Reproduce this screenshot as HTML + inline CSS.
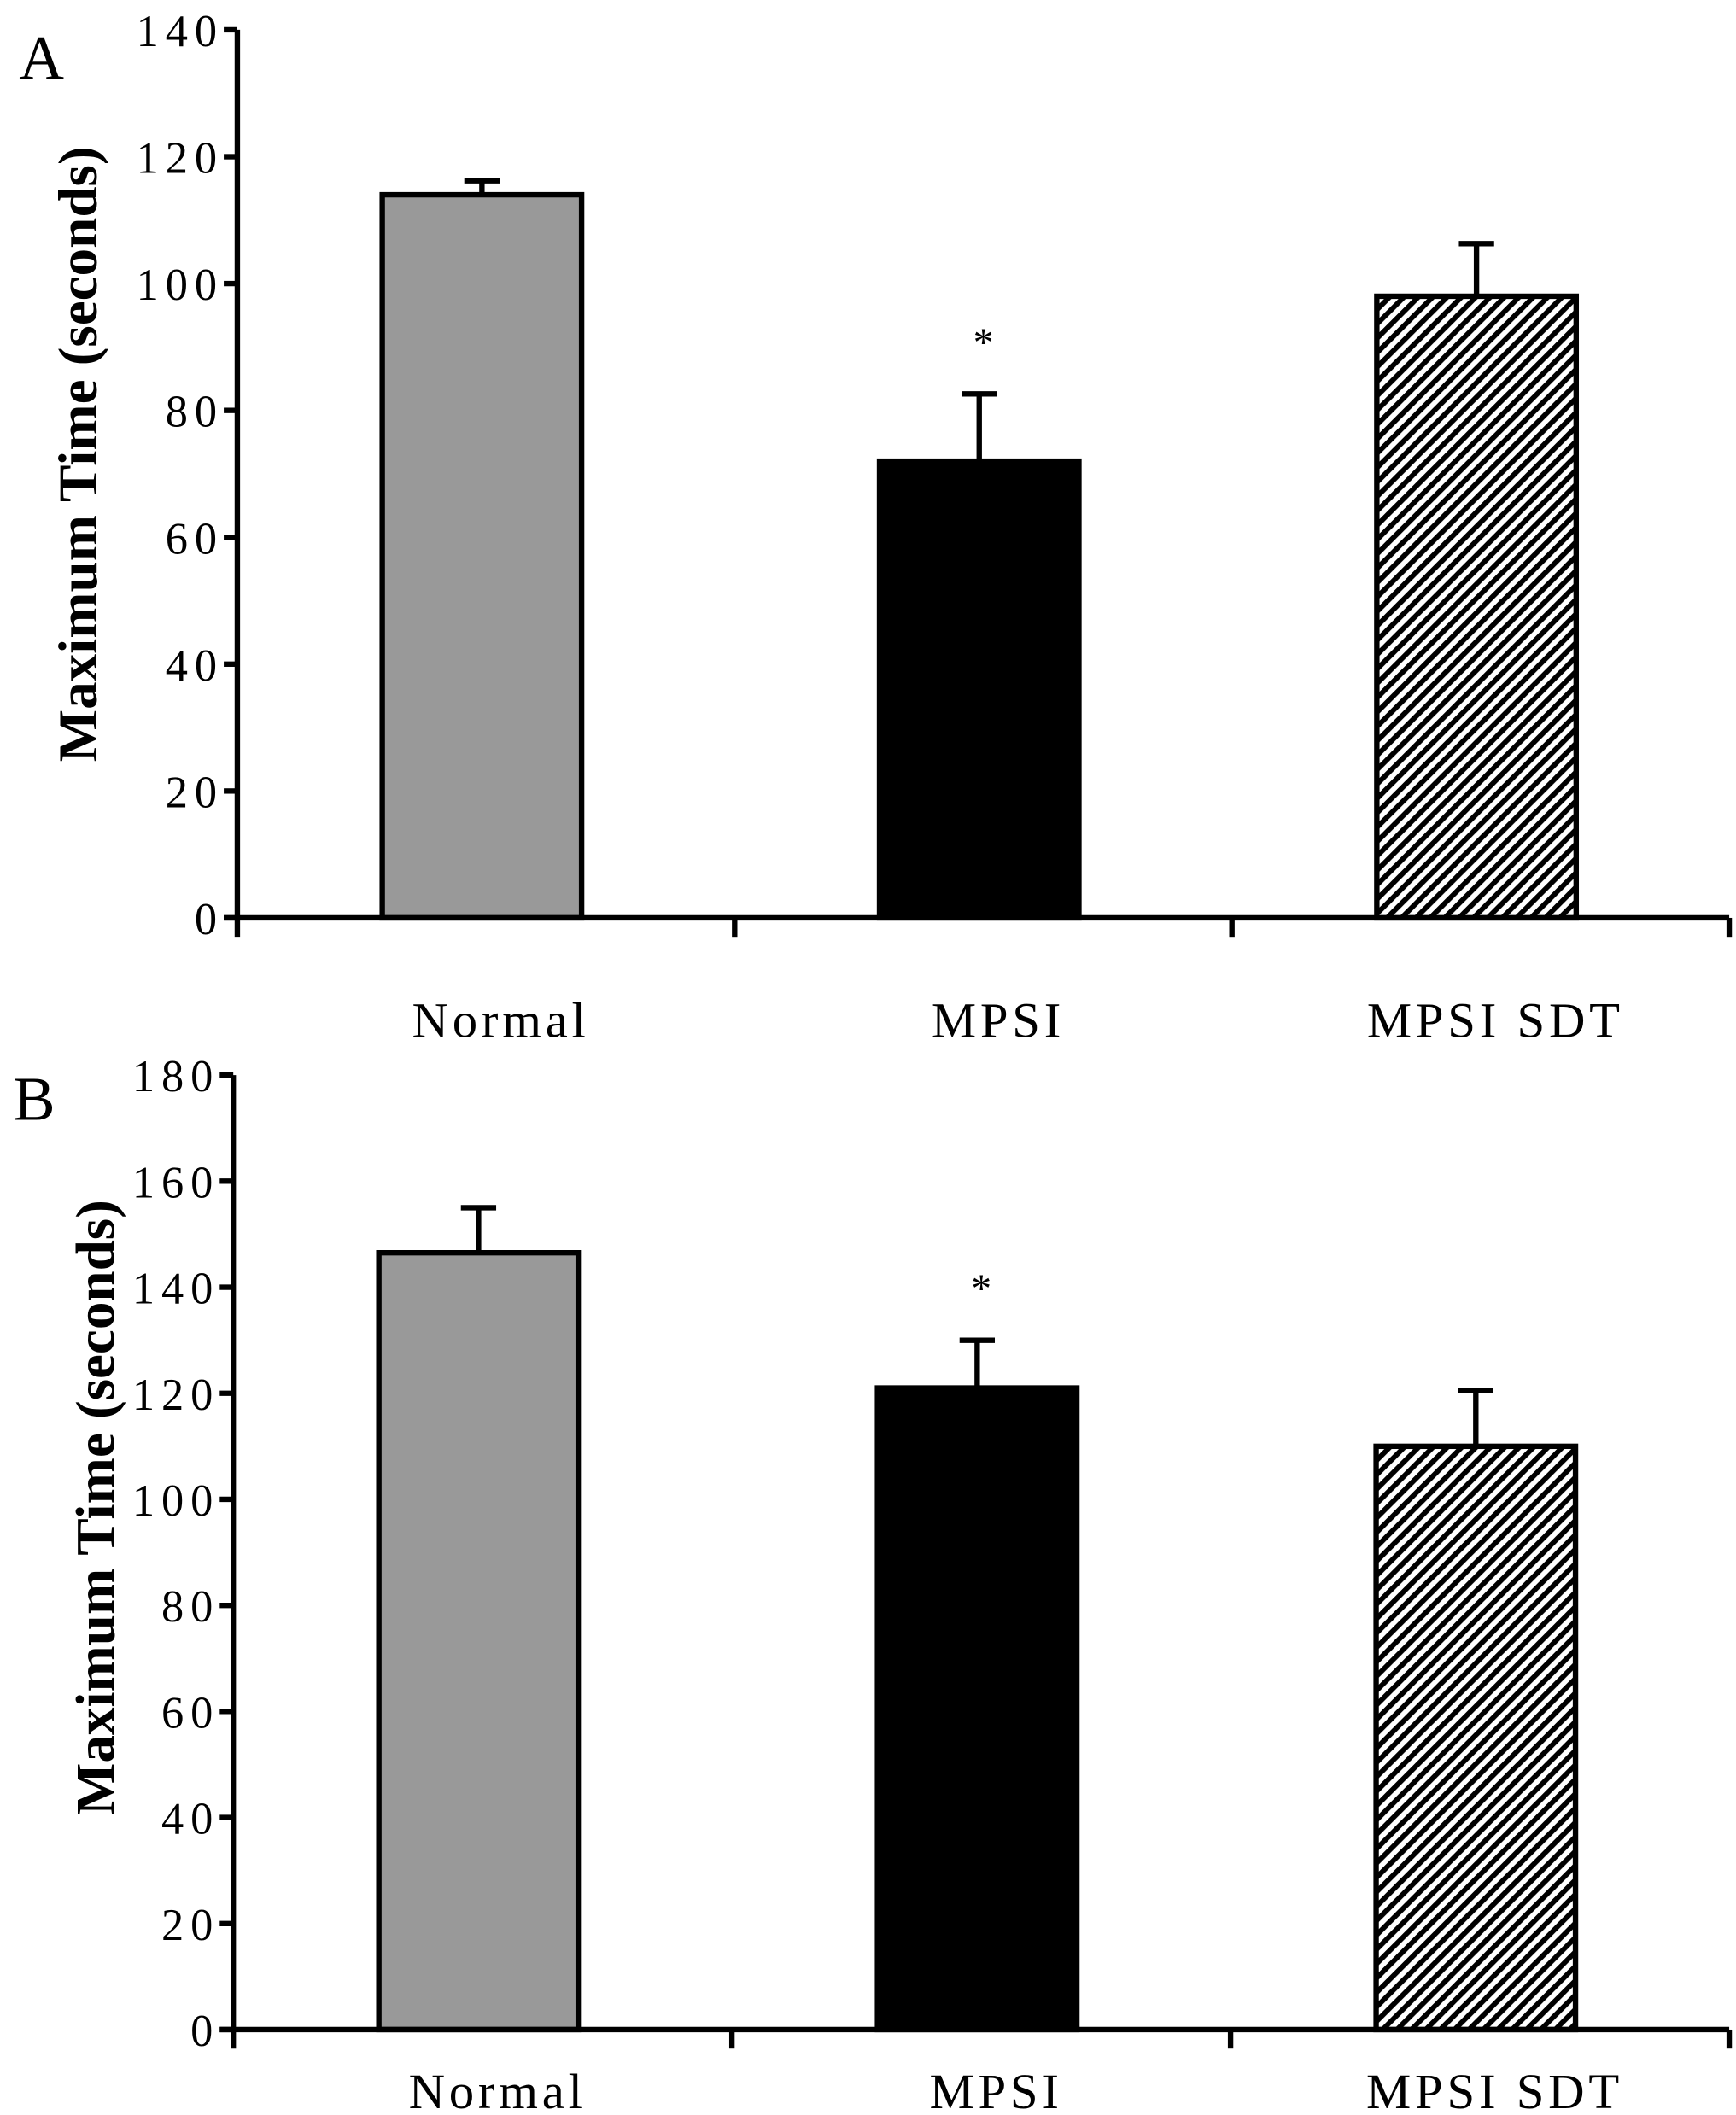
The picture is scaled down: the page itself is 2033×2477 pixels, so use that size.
<!DOCTYPE html>
<html><head><meta charset="utf-8"><style>
html,body{margin:0;padding:0;background:#fff;}
svg{display:block;}
text{font-family:"Liberation Serif",serif;fill:#000;}
</style></head><body>
<svg id="fig" width="2033" height="2477" viewBox="0 0 1280 1560" preserveAspectRatio="none" xmlns="http://www.w3.org/2000/svg">
<defs>
<pattern id="hatch" patternUnits="userSpaceOnUse" width="7.5" height="7.5" patternTransform="rotate(45)">
<rect width="7.5" height="7.5" fill="#fff"/>
<rect width="3.8" height="7.5" fill="#000"/>
</pattern>
</defs>
</svg>
<script>
const categories = ["Normal", "MPSI", "MPSI SDT"];
const valuesA = [114, 72, 98];
const errorsA = [2.2, 10.6, 8.3];
const ticksA = [0, 20, 40, 60, 80, 100, 120, 140];
const valuesB = [146.5, 121, 110];
const errorsB = [8.5, 9, 10.5];
const ticksB = [0, 20, 40, 60, 80, 100, 120, 140, 160, 180];
const sigA = [false, true, false];
const sigB = [false, true, false];

const NS = "http://www.w3.org/2000/svg";
const svg = document.getElementById("fig");
function mk(tag, attrs, parent) {
  const e = document.createElementNS(NS, tag);
  for (const k in attrs) e.setAttribute(k, attrs[k]);
  (parent || svg).appendChild(e);
  return e;
}
const fills = ["#999999", "#000000", "url(#hatch)"];

function drawPanel(p) {
  const g = mk("g", {});
  
  
  const maxV = p.ticks[p.ticks.length - 1];
  const y = v => p.y0 - (v / maxV) * (p.y0 - p.yTop);
  const slot = (p.xEnd - p.axX) / categories.length;
  const xc = i => p.axX + slot * (i + 0.5) - 3;
  const bw = 147;

  const lt = mk("text", {x: p.letterX, y: p.letterY, "font-size": 46}, g);
  lt.textContent = p.letter;
  
  

  categories.forEach((c, i) => {
    const v = p.values[i], e = p.errors[i];
    const cx = xc(i);
    const r = mk("rect", {x: cx - bw / 2, y: y(v), width: bw, height: p.y0 - y(v), fill: fills[i], stroke: "#000", "stroke-width": 4}, g);
    
    
    const eg = mk("g", {stroke: "#000", "stroke-width": 4}, g);
    
    
    mk("line", {x1: cx, x2: cx, y1: y(v), y2: y(v + e)}, eg);
    mk("line", {x1: cx - 13, x2: cx + 13, y1: y(v + e), y2: y(v + e)}, eg);
    if (p.sig[i]) {
      const s = mk("text", {x: cx + 3, y: y(v + e) - 28, "font-size": 30, "text-anchor": "middle"}, g);
      s.textContent = "*";
      
      
    }
    const lbl = mk("text", {x: cx + 14, y: p.labelY, "font-size": 37, "text-anchor": "middle", "letter-spacing": "3"}, g);
    lbl.textContent = c;
    
    
  });

  const ax = mk("g", {stroke: "#000", "stroke-width": 4}, g);
  
  
  mk("line", {x1: p.axX, x2: p.axX, y1: p.yTop, y2: p.y0 + 14}, ax);
  mk("line", {x1: p.axX - 10, x2: p.xEnd, y1: p.y0, y2: p.y0}, ax);
  for (let i = 1; i <= categories.length; i++) {
    mk("line", {x1: p.axX + slot * i, x2: p.axX + slot * i, y1: p.y0, y2: p.y0 + 14}, ax);
  }
  p.ticks.forEach(t => {
    mk("line", {x1: p.axX - 10, x2: p.axX, y1: y(t), y2: y(t)}, ax);
    const tl = mk("text", {x: p.axX - 10, y: y(t) + 12, "font-size": 33, "text-anchor": "end", "letter-spacing": "5"}, g);
    tl.textContent = t;
    
    
  });
  const yt = mk("text", {x: 0, y: 0, "font-size": 41, "font-weight": "bold", "text-anchor": "middle", transform: `translate(${p.titleX},${p.titleY}) rotate(-90)`}, g);
  yt.textContent = "Maximum Time (seconds)";
  
  
}

drawPanel({letter: "A", letterX: 14, letterY: 58, axX: 175, yTop: 22, y0: 677, xEnd: 1275, labelY: 765,
  values: valuesA, errors: errorsA, ticks: ticksA, sig: sigA, titleX: 71, titleY: 335});
drawPanel({letter: "B", letterX: 10, letterY: 826, axX: 172, yTop: 793, y0: 1497, xEnd: 1275, labelY: 1555,
  values: valuesB, errors: errorsB, ticks: ticksB, sig: sigB, titleX: 84, titleY: 1112});
</script>
</body></html>
